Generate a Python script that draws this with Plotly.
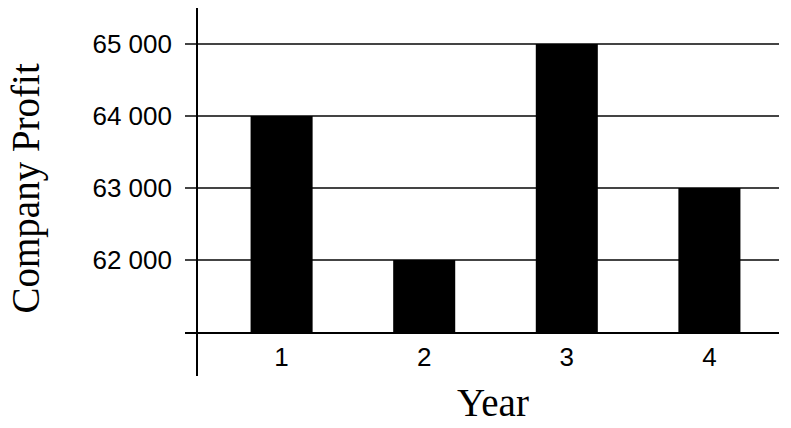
import plotly.graph_objects as go

years = [1, 2, 3, 4]
profit = [64000, 62000, 65000, 63000]
tick_vals = [61000, 62000, 63000, 64000, 65000]
tick_text = ["", "62 000", "63 000", "64 000", "65 000"]

W, H = 791, 428
L, R, T, B = 185, 12, 8, 96
pw, ph = W - L - R, H - T - B

def px_x(p):  # page px -> paper x
    return (p - L) / pw

def px_y(p):  # page px -> paper y
    return (H - B - p) / ph

fig = go.Figure(go.Bar(x=years, y=profit, width=0.435,
                       marker=dict(color="black", line=dict(width=0))))

fig.update_layout(
    width=W, height=H, margin=dict(l=L, r=R, t=T, b=B, pad=0),
    paper_bgcolor="white", plot_bgcolor="white", showlegend=False,
    xaxis=dict(range=[0.3226, 4.488], tickvals=years, ticks="",
               showgrid=False, zeroline=False, showline=True,
               linecolor="black", linewidth=2,
               tickfont=dict(family="Liberation Sans, Arial", size=26, color="black"),
               ticklabelstandoff=1),
    yaxis=dict(range=[61000, 65500], tickvals=tick_vals, ticktext=tick_text,
               ticks="", showgrid=True, gridcolor="#444444", gridwidth=2,
               zeroline=False, showline=False,
               tickfont=dict(family="Liberation Sans, Arial", size=26, color="black"),
               ticklabelstandoff=12),
    shapes=[dict(type="line", xref="paper", yref="paper",
                 x0=px_x(197), x1=px_x(197),
                 y0=px_y(376), y1=1,
                 line=dict(color="black", width=2))],
    annotations=[
        dict(text="Year", xref="paper", yref="paper",
             x=px_x(493), y=px_y(402),
             xanchor="center", yanchor="middle", showarrow=False,
             font=dict(family="Liberation Serif, Times New Roman", size=39, color="black")),
        dict(text="Company Profit", xref="paper", yref="paper", textangle=-90,
             x=px_x(26), y=px_y(188.5),
             xanchor="center", yanchor="middle", showarrow=False,
             font=dict(family="Liberation Serif, Times New Roman", size=39, color="black")),
    ],
)

fig.write_html("out.html", config={"displayModeBar": False},
               post_script="document.body.style.margin='0';document.body.style.overflow='hidden';")
